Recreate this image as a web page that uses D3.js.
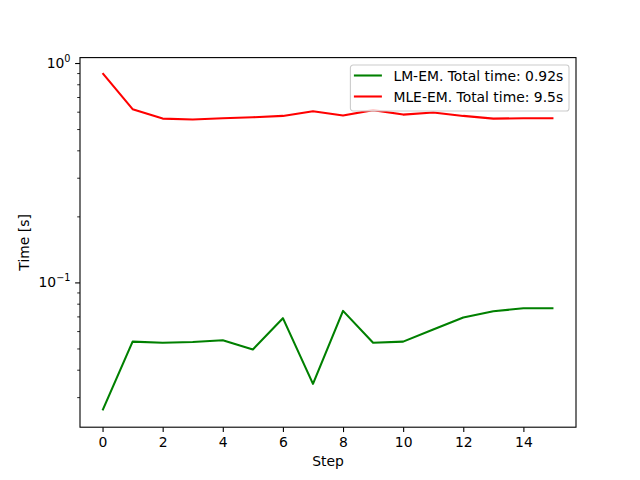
<!DOCTYPE html>
<html>
<head>
<meta charset="utf-8">
<script src="https://cdn.jsdelivr.net/npm/d3@7"></script>
<style>
  body { margin: 0; background: #fff; }
  text { font-family: "DejaVu Sans", sans-serif; }
</style>
</head>
<body>
<div id="graph"></div>
<script>
// data
const steps = [0, 1, 2, 3, 4, 5, 6, 7, 8, 9, 10, 11, 12, 13, 14, 15];
const lmTimes = [0.0261, 0.0537, 0.0531, 0.0535, 0.0545, 0.0495, 0.0687, 0.0345,
  0.0742, 0.0531, 0.0537, 0.0610, 0.0692, 0.0739, 0.0762, 0.0762];
const mleTimes = [0.900, 0.616, 0.558, 0.553, 0.560, 0.566, 0.574, 0.603,
  0.576, 0.610, 0.582, 0.595, 0.574, 0.558, 0.560, 0.560];
const seriesNames = ["LM-EM. Total time: 0.92s", "MLE-EM. Total time: 9.5s"];
const seriesColors = ["green", "red"];
const xTicks = [0, 2, 4, 6, 8, 10, 12, 14];
const yMajor = [0.1, 1];
const yExp = [-1, 0];

// same margins as a default matplotlib figure
const W = 640, H = 480;
const margin = {top: 57.6, right: 64, bottom: 52.8, left: 80},
  width = W - margin.left - margin.right,
  height = H - margin.top - margin.bottom;

const svg = d3.select("#graph")
.append("svg")
  .attr("width", W)
  .attr("height", H);

const g = svg.append("g")
  .attr("transform", `translate(${margin.left}, ${margin.top})`);

const x = d3.scaleLinear().domain([-0.75, 15.75]).range([0, width]);
const y = d3.scaleLog().domain([0.02188, 1.0585]).range([height, 0]);

// minor ticks on the log axis
const yMinor = [];
for (let e = -2; e <= 0; e++) {
  for (let m = 2; m <= 9; m++) {
    const v = m * Math.pow(10, e);
    if (v >= y.domain()[0] && v <= y.domain()[1]) yMinor.push(v);
  }
}

const fs = 13.9;

// x axis
const xAxis = g.append("g")
  .attr("transform", `translate(0, ${height})`)
  .call(d3.axisBottom(x).tickValues(xTicks).tickSize(4.9).tickPadding(4.9));
xAxis.select(".domain").remove();
xAxis.selectAll("line").attr("stroke", "#000").attr("stroke-width", 1.1);
xAxis.selectAll("text").attr("font-size", fs).attr("fill", "#000")
  .attr("font-family", "DejaVu Sans");

// y axis, major ticks
const yAxis = g.append("g")
  .call(d3.axisLeft(y).tickValues(yMajor).tickSize(4.9).tickFormat(""));
yAxis.select(".domain").remove();
yAxis.selectAll("line").attr("stroke", "#000").attr("stroke-width", 1.1);

const yMinorAxis = g.append("g")
  .call(d3.axisLeft(y).tickValues(yMinor).tickSize(2.8).tickFormat(""));
yMinorAxis.select(".domain").remove();
yMinorAxis.selectAll("line").attr("stroke", "#000").attr("stroke-width", 0.84);

// 10^n labels
yMajor.forEach((v, i) => {
  const t = g.append("text")
    .attr("x", -9.5)
    .attr("y", y(v) + 5)
    .attr("text-anchor", "end")
    .attr("font-size", fs)
    .attr("fill", "#000");
  t.append("tspan").text("10");
  t.append("tspan")
    .attr("dy", -6)
    .attr("font-size", fs * 0.7)
    .text(yExp[i] < 0 ? "\u2212" + Math.abs(yExp[i]) : yExp[i]);
});

// lines
const line = d3.line()
  .x((d, i) => x(steps[i]))
  .y(d => y(d));

[lmTimes, mleTimes].forEach((s, i) => {
  g.append("path")
    .datum(s)
    .attr("fill", "none")
    .attr("stroke", seriesColors[i])
    .attr("stroke-width", 2.08)
    .attr("stroke-linejoin", "round")
    .attr("d", line);
});

// frame
g.append("rect")
  .attr("width", width)
  .attr("height", height)
  .attr("fill", "none")
  .attr("stroke", "#000")
  .attr("stroke-width", 1.1);

// axis labels
g.append("text")
  .attr("x", width / 2)
  .attr("y", height + 39)
  .attr("text-anchor", "middle")
  .attr("font-size", fs)
  .text("Step");

g.append("text")
  .attr("transform", `translate(${-51}, ${height / 2}) rotate(-90)`)
  .attr("text-anchor", "middle")
  .attr("font-size", fs)
  .text("Time [s]");

// legend, upper right
const legend = g.append("g")
  .attr("transform", `translate(${width - 225.6}, 7.4)`);
legend.append("rect")
  .attr("width", 218.6)
  .attr("height", 46)
  .attr("rx", 2.8)
  .attr("fill", "#fff")
  .attr("fill-opacity", 0.8)
  .attr("stroke", "#ccc")
  .attr("stroke-width", 1.1);
seriesNames.forEach((name, i) => {
  const yy = 10.5 + i * 21;
  legend.append("line")
    .attr("x1", 3.5).attr("x2", 31.5)
    .attr("y1", yy).attr("y2", yy)
    .attr("stroke", seriesColors[i])
    .attr("stroke-width", 2.08);
  legend.append("text")
    .attr("x", 43)
    .attr("y", yy + 5)
    .attr("font-size", fs)
    .text(name);
});
</script>
</body>
</html>
